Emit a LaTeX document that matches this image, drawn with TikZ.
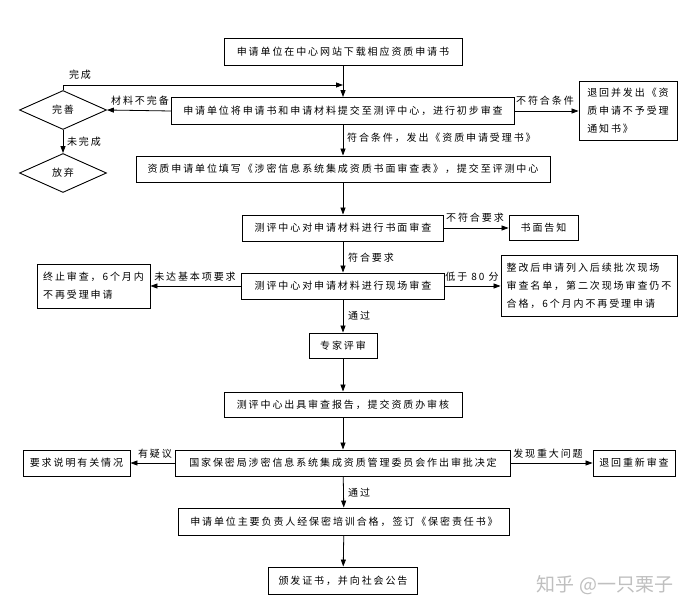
\documentclass[tikz,border=0pt]{standalone}
\usepackage{fontspec}
\setmainfont[LetterSpace=19]{Noto Sans CJK SC}
\newfontfamily\wmfont{Noto Sans CJK SC}
\usetikzlibrary{shapes.geometric,arrows.meta}
\tikzset{
  txt/.style={font=\fontsize{10}{18}\selectfont},
  box/.style={txt, draw, line width=0.9pt, inner sep=0pt, align=left},
  dia/.style={txt, draw, diamond, aspect=2.2, line width=0.9pt, minimum width=87pt, minimum height=39pt, inner sep=0pt},
  arr/.style={line width=0.8pt, -{Triangle[length=7pt,width=5pt]}},
  lbl/.style={txt, inner sep=0pt},
}
\begin{document}
\begin{tikzpicture}[x=1pt,y=-1pt]
\fill[white] (0,0) rectangle (691,612);
\useasboundingbox (0,0) rectangle (691,612);

% main column
\node[box, minimum width=238pt, minimum height=27pt] (b1) at (343,51.5) {申请单位在中心网站下载相应资质申请书};
\node[box, minimum width=343pt, minimum height=27pt] (b2) at (343,111) {申请单位将申请书和申请材料提交至测评中心，进行初步审查};
\node[box, minimum width=414pt, minimum height=26pt] (b3) at (343,169) {资质申请单位填写《涉密信息系统集成资质书面审查表》，提交至评测中心};
\node[box, minimum width=201pt, minimum height=26pt] (b4) at (343,228) {测评中心对申请材料进行书面审查};
\node[box, minimum width=203pt, minimum height=26pt] (b5) at (343,286) {测评中心对申请材料进行现场审查};
\node[box, minimum width=68pt, minimum height=25pt] (b6) at (343,345.5) {专家评审};
\node[box, minimum width=238pt, minimum height=25pt] (b7) at (343,404.5) {测评中心出具审查报告，提交资质办审核};
\node[box, minimum width=335pt, minimum height=26pt] (b8) at (343,463) {国家保密局涉密信息系统集成资质管理委员会作出审批决定};
\node[box, minimum width=331pt, minimum height=27pt] (b9) at (344,521.5) {申请单位主要负责人经保密培训合格，签订《保密责任书》};
\node[box, minimum width=149pt, minimum height=27pt] (b10) at (343,580.5) {颁发证书，并向社会公告};

% side nodes
\node[dia] (d1) at (63,110) {完善};
\node[dia] (d2) at (63,173) {放弃};
\node[box, minimum width=98pt, minimum height=59pt] (r1) at (628,110.5) {退回并发出《资\\质申请不予受理\\通知书》};
\node[box, minimum width=69pt, minimum height=25pt] (r2) at (543.5,228) {书面告知};
\node[box, minimum width=113pt, minimum height=44pt] (l1) at (93.5,286) {终止审查，6个月内\\不再受理申请};
\node[box, minimum width=176pt, minimum height=61pt] (r3) at (589,286) {整改后申请列入后续批次现场\\审查名单，第二次现场审查仍不\\合格，6个月内不再受理申请};
\node[box, minimum width=107pt, minimum height=26pt] (l2) at (76.5,463) {要求说明有关情况};
\node[box, minimum width=82pt, minimum height=26pt] (r4) at (634,463) {退回重新审查};

\coordinate (m1) at (343,85);

% connectors
\draw[arr] (b1) -- (b2);
\draw[arr] (d1.north) |- (m1);
\draw[arr] (b2.west) -- (d1.east);
\draw[arr] (d1) -- (d2);
\draw[arr] (b2.east) -- (r1.west |- b2.east);
\draw[arr] (b2) -- (b3);
\draw[arr] (b3) -- (b4);
\draw[arr] (b4.east) -- (r2.west);
\draw[arr] (b4) -- (b5);
\draw[arr] (b5.west) -- (l1.east);
\draw[arr] (b5.east) -- (r3.west);
\draw[arr] (b5) -- (b6);
\draw[arr] (b6) -- (b7);
\draw[arr] (b7) -- (b8);
\draw[arr] (b8.west) -- (l2.east);
\draw[arr] (b8.east) -- (r4.west);
\draw[arr] (b8) -- (b9);
\draw[arr] (b9) -- (b10);

% labels
\node[lbl] (t1) at (80,75) {完成};
\node[lbl] (t2) at (140,101) {材料不完备};
\node[lbl] (t3) at (84,142) {未完成};
\node[lbl] (t4) at (545,101) {不符合条件};
\node[lbl, anchor=west] (t5) at (347,138) {符合条件，发出《资质申请受理书》};
\node[lbl] (t6) at (475,218) {不符合要求};
\node[lbl, anchor=west] (t7) at (348,258) {符合要求};
\node[lbl] (t8) at (195,277) {未达基本项要求};
\node[lbl] (t9) at (472,277) {低于 80 分};
\node[lbl, anchor=west] (t10) at (348,316) {通过};
\node[lbl] (t11) at (155,454) {有疑议};
\node[lbl] (t12) at (548,454) {发现重大问题};
\node[lbl, anchor=west] (t13) at (348,493) {通过};

\node[font=\wmfont\fontsize{19}{19}\selectfont, text=black!25, inner sep=0pt] (wm) at (605,585) {知乎 @一只栗子};
\end{tikzpicture}
\end{document}
